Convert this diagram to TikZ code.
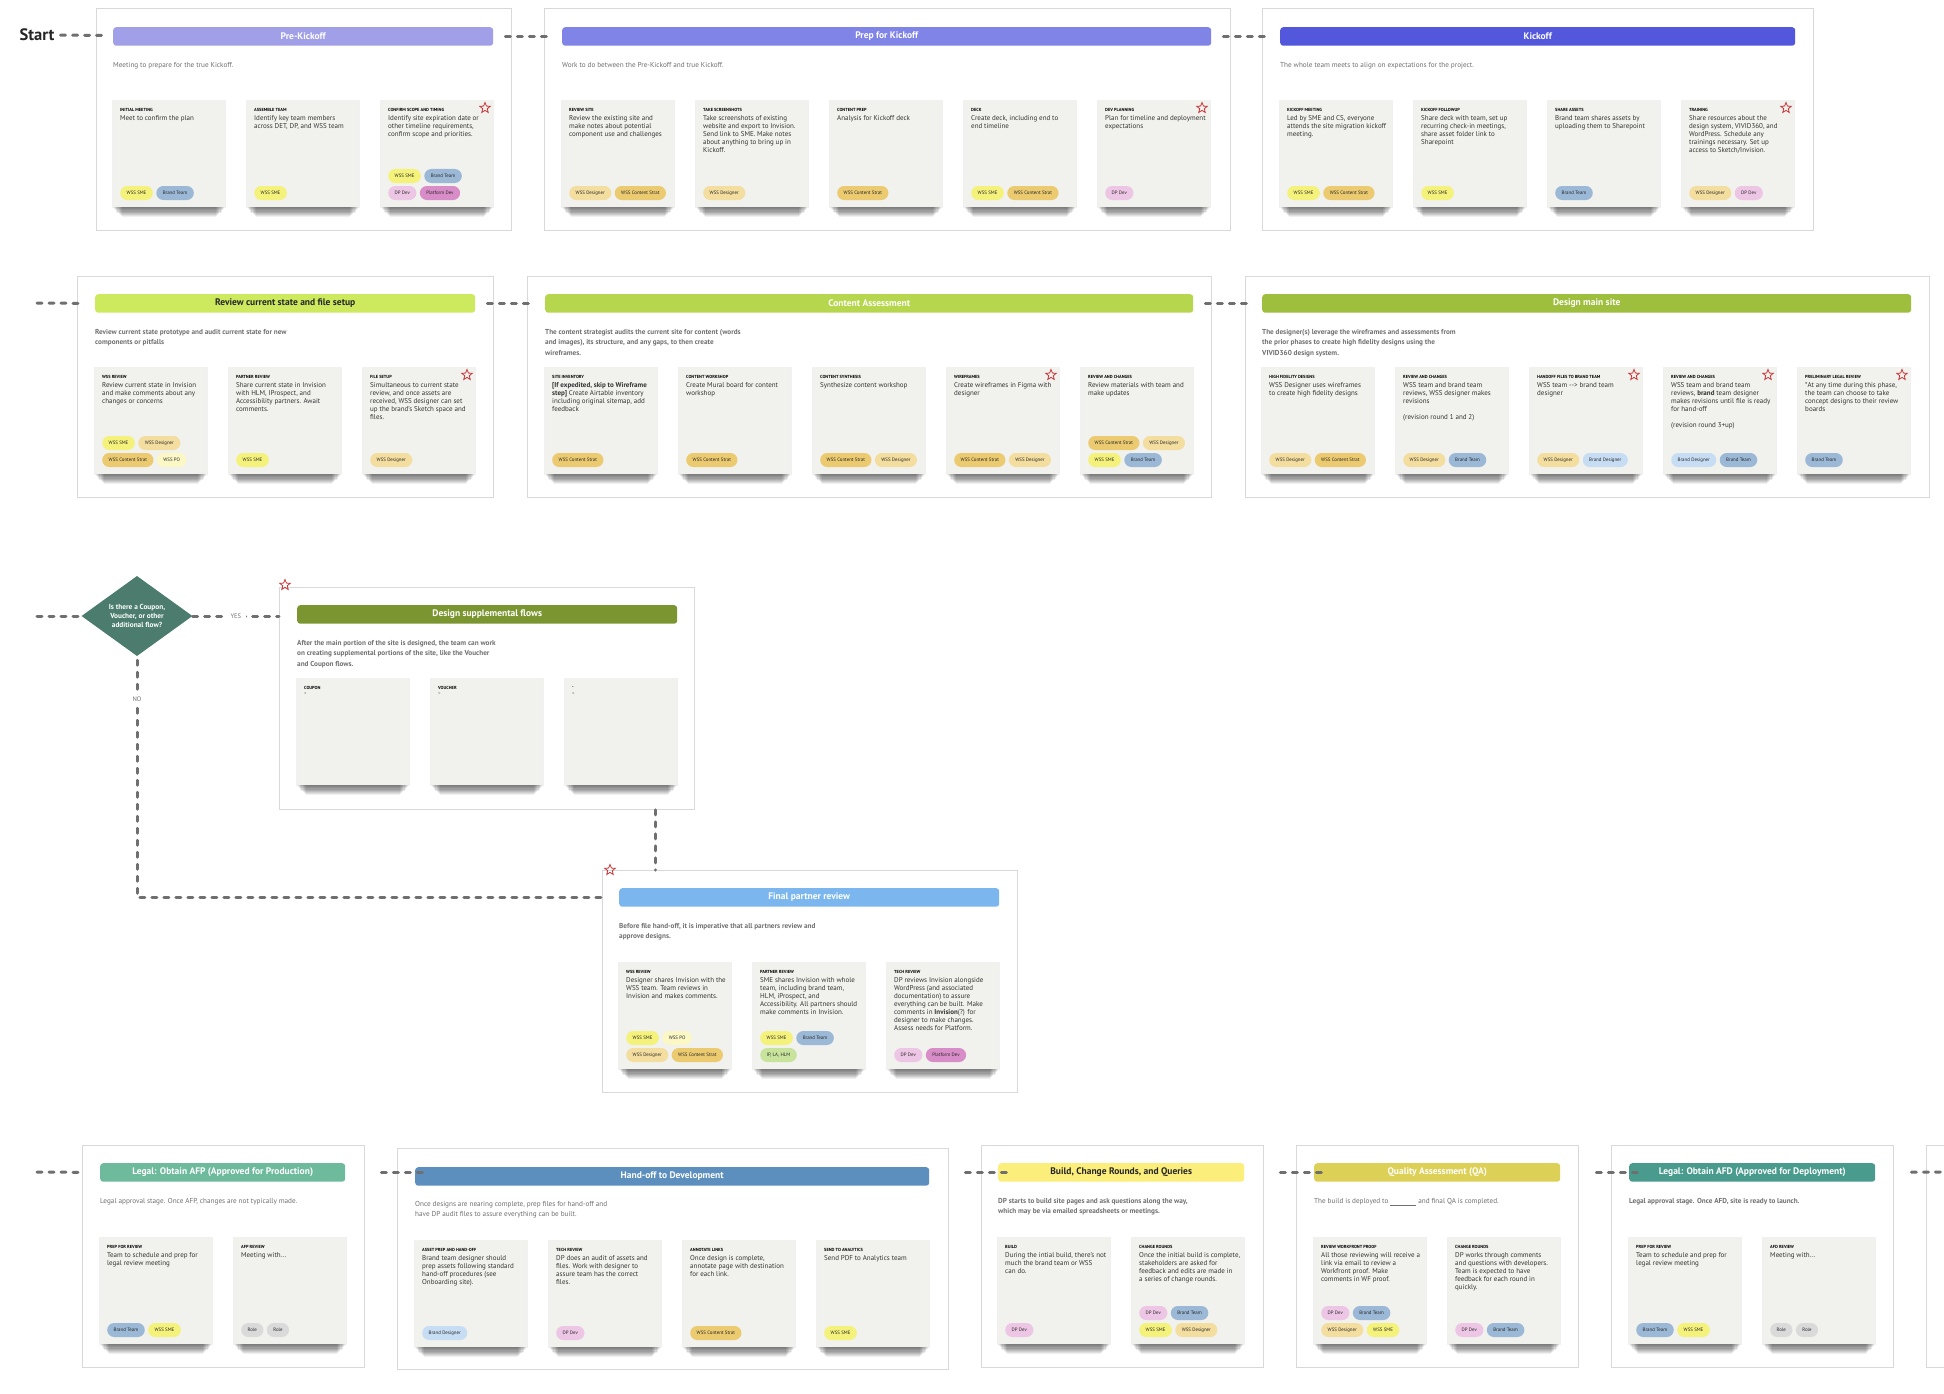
\documentclass[tikz,border=0pt]{standalone}
\usepackage{fontspec}
\setmainfont{PT Sans}
\usetikzlibrary{positioning,shapes.geometric,shadows}

\definecolor{sme}{HTML}{F5F27C}
\definecolor{brand}{HTML}{9BB9D6}
\definecolor{dpdev}{HTML}{EEC6E5}
\definecolor{platdev}{HTML}{D98DC8}
\definecolor{designer}{HTML}{F4DE9F}
\definecolor{strat}{HTML}{EBCA70}
\definecolor{po}{HTML}{FBF8C6}
\definecolor{branddes}{HTML}{C6DDF3}
\definecolor{partners}{HTML}{C8E49C}
\definecolor{role}{HTML}{DADADA}
\definecolor{cardbg}{HTML}{F1F1ED}
\definecolor{boxline}{HTML}{D9D9D9}
\definecolor{flowgray}{HTML}{6F6F6F}
\definecolor{desctext}{HTML}{707070}
\definecolor{bodytext}{HTML}{333333}
\definecolor{starred}{HTML}{C8383B}
\definecolor{prekick}{HTML}{A09FE7}
\definecolor{prepkick}{HTML}{8084E6}
\definecolor{kickoff}{HTML}{5257DC}
\definecolor{reviewstate}{HTML}{CDEA5E}
\definecolor{contentassess}{HTML}{B6D74D}
\definecolor{designmain}{HTML}{9EBE3D}
\definecolor{supplemental}{HTML}{7B9631}
\definecolor{finalreview}{HTML}{7BB7EE}
\definecolor{legalafp}{HTML}{6DBA9C}
\definecolor{handoff}{HTML}{5C8EBE}
\definecolor{build}{HTML}{FCEE7B}
\definecolor{qa}{HTML}{DDD056}
\definecolor{legalafd}{HTML}{489B8D}
\definecolor{decisiongreen}{HTML}{4B7C6D}

\begin{document}
\begin{tikzpicture}[x=1pt, y=-1pt,
					group box/.style={draw=boxline, line width=0.8pt, fill=white, anchor=north west, inner sep=0pt},
					phase bar/.style={rounded corners=3pt, minimum height=18.5pt, anchor=north west, inner sep=0pt, text=white, font=\fontsize{9.5}{10}\selectfont\bfseries},
					desc/.style={anchor=north west, align=left, inner sep=0pt, text=desctext, font=\fontsize{7.2}{10.5}\selectfont},
					desc strong/.style={desc, font=\fontsize{7.2}{10.5}\selectfont\bfseries},
					card/.style={fill=cardbg, minimum width=112pt, minimum height=107pt, inner sep=0pt, outer sep=0pt, anchor=north west,
						general shadow={fill=black, opacity=.06, shadow yshift=-22.6pt, shadow scale=.84},
						general shadow={fill=black, opacity=.07, shadow yshift=-19.7pt, shadow scale=.86},
						general shadow={fill=black, opacity=.075, shadow yshift=-16.9pt, shadow scale=.88},
						general shadow={fill=black, opacity=.08, shadow yshift=-14.1pt, shadow scale=.9},
						general shadow={fill=black, opacity=.085, shadow yshift=-11.3pt, shadow scale=.92},
						general shadow={fill=black, opacity=.085, shadow yshift=-8.5pt, shadow scale=.94},
						general shadow={fill=black, opacity=.08, shadow yshift=-5.6pt, shadow scale=.96},
						general shadow={fill=black, opacity=.07, shadow yshift=-2.8pt, shadow scale=.98},
						general shadow={fill=black, opacity=.06, shadow yshift=-0.8pt, shadow scale=1.01}},
					card title/.style={anchor=west, inner sep=0pt, font=\fontsize{4.4}{5}\selectfont\bfseries},
					card text/.style={anchor=north west, align=left, inner sep=0pt, text=bodytext, font=\fontsize{7}{8}\selectfont},
					tag/.style={rounded corners=7pt, minimum height=14pt, inner xsep=6.5pt, inner ysep=0pt, text=black!85, font=\fontsize{4.9}{5.5}\selectfont},
					fav star/.style={star, star points=5, star point ratio=2.3, draw=starred, line width=0.8pt, minimum size=11pt, inner sep=0pt},
					flow/.style={draw=flowgray, line width=3pt, dash pattern=on 5pt off 7pt, line cap=round, shorten <=12pt, shorten >=12pt},
					late flow/.style={flow, shorten <=36pt, shorten >=-10pt},
					decision/.style={diamond, fill=decisiongreen, minimum width=111pt, minimum height=74pt, inner sep=0pt, align=center, text=white, font=\fontsize{7.3}{9.3}\selectfont\bfseries},
					choice/.style={fill=white, inner xsep=5pt, inner ysep=2pt, text=desctext, font=\fontsize{6.5}{7}\selectfont},
					start label/.style={inner sep=0pt, text=black!85, font=\fontsize{16.5}{18}\selectfont\bfseries}]

  \useasboundingbox (0,0) rectangle (1944,1394);
  \fill[white] (0,0) rectangle (1944,1394);

  % group boxes
  \node[group box, minimum width=415pt, minimum height=222pt] (g1) at (96,8) {};
  \node[group box, minimum width=686pt, minimum height=222pt] (g2) at (544,8) {};
  \node[group box, minimum width=551pt, minimum height=222pt] (g3) at (1262,8) {};
  \node[group box, minimum width=416pt, minimum height=221pt] (g4) at (77,276) {};
  \node[group box, minimum width=684pt, minimum height=221pt] (g5) at (527,276) {};
  \node[group box, minimum width=684pt, minimum height=221pt] (g6) at (1245,276) {};
  \node[group box, minimum width=415pt, minimum height=222pt] (g7) at (279,587) {};
  \node[group box, minimum width=415pt, minimum height=222pt] (g8) at (602,870) {};
  \node[group box, minimum width=282pt, minimum height=222pt] (g9) at (82,1145) {};
  \node[group box, minimum width=551pt, minimum height=221pt] (g10) at (397,1148) {};
  \node[group box, minimum width=282pt, minimum height=222pt] (g11) at (981,1145) {};
  \node[group box, minimum width=282pt, minimum height=222pt] (g12) at (1296,1145) {};
  \node[group box, minimum width=282pt, minimum height=222pt] (g13) at (1611,1145) {};
  \node[group box, minimum width=100pt, minimum height=222pt] (g14) at (1926,1145) {};

  % row 1
  \node[start label] (start) at (37,35) {Start};

  \node[phase bar, fill=prekick, minimum width=380pt] (b1) at (113,27) {Pre-Kickoff};
  \node[desc] (d1) at (113,62) {Meeting to prepare for the true Kickoff.};
  \node[card] (c11) at (113,100) {};
  \node[card, right=22pt of c11] (c12) {};
  \node[card, right=22pt of c12] (c13) {};
  \node[card title] (h11) at ([shift={(7,10)}]c11.north west) {INITIAL MEETING};
  \node[card text] (x11) at ([shift={(7,15)}]c11.north west) {Meet to confirm the plan};
  \node[tag, fill=sme, anchor=west] (p11a) at ([shift={(7,-14)}]c11.south west) {WSS SME};
  \node[tag, fill=brand, right=3pt of p11a] (p11b) {Brand Team};
  \node[card title] (h12) at ([shift={(7,10)}]c12.north west) {ASSEMBLE TEAM};
  \node[card text] (x12) at ([shift={(7,15)}]c12.north west) {Identify key team members\\across DET, DP, and WSS team};
  \node[tag, fill=sme, anchor=west] (p12a) at ([shift={(7,-14)}]c12.south west) {WSS SME};
  \node[card title] (h13) at ([shift={(7,10)}]c13.north west) {CONFIRM SCOPE AND TIMING};
  \node[card text] (x13) at ([shift={(7,15)}]c13.north west) {Identify site expiration date or\\other timeline requirements,\\confirm scope and priorities.};
  \node[tag, fill=sme, anchor=west] (p13a) at ([shift={(7,-31)}]c13.south west) {WSS SME};
  \node[tag, fill=brand, right=3pt of p13a] (p13b) {Brand Team};
  \node[tag, fill=dpdev, anchor=west] (p13c) at ([shift={(7,-14)}]c13.south west) {DP Dev};
  \node[tag, fill=platdev, right=3pt of p13c] (p13d) {Platform Dev};
  \node[fav star] (s13) at ([shift={(-8,8)}]c13.north east) {};

  \node[phase bar, fill=prepkick, minimum width=649pt] (b2) at (562,27) {Prep for Kickoff};
  \node[desc] (d2) at (562,62) {Work to do between the Pre-Kickoff and true Kickoff.};
  \node[card] (c21) at (562,100) {};
  \node[card, right=22pt of c21] (c22) {};
  \node[card, right=22pt of c22] (c23) {};
  \node[card, right=22pt of c23] (c24) {};
  \node[card, right=22pt of c24] (c25) {};
  \node[card title] (h21) at ([shift={(7,10)}]c21.north west) {REVIEW SITE};
  \node[card text] (x21) at ([shift={(7,15)}]c21.north west) {Review the existing site and\\make notes about potential\\component use and challenges};
  \node[tag, fill=designer, anchor=west] (p21a) at ([shift={(7,-14)}]c21.south west) {WSS Designer};
  \node[tag, fill=strat, right=3pt of p21a] (p21b) {WSS Content Strat};
  \node[card title] (h22) at ([shift={(7,10)}]c22.north west) {TAKE SCREENSHOTS};
  \node[card text] (x22) at ([shift={(7,15)}]c22.north west) {Take screenshots of existing\\website and export to Invision.\\Send link to SME. Make notes\\about anything to bring up in\\Kickoff.};
  \node[tag, fill=designer, anchor=west] (p22a) at ([shift={(7,-14)}]c22.south west) {WSS Designer};
  \node[card title] (h23) at ([shift={(7,10)}]c23.north west) {CONTENT PREP};
  \node[card text] (x23) at ([shift={(7,15)}]c23.north west) {Analysis for Kickoff deck};
  \node[tag, fill=strat, anchor=west] (p23a) at ([shift={(7,-14)}]c23.south west) {WSS Content Strat};
  \node[card title] (h24) at ([shift={(7,10)}]c24.north west) {DECK};
  \node[card text] (x24) at ([shift={(7,15)}]c24.north west) {Create deck, including end to\\end timeline};
  \node[tag, fill=sme, anchor=west] (p24a) at ([shift={(7,-14)}]c24.south west) {WSS SME};
  \node[tag, fill=strat, right=3pt of p24a] (p24b) {WSS Content Strat};
  \node[card title] (h25) at ([shift={(7,10)}]c25.north west) {DEV PLANNING};
  \node[card text] (x25) at ([shift={(7,15)}]c25.north west) {Plan for timeline and deployment\\expectations};
  \node[tag, fill=dpdev, anchor=west] (p25a) at ([shift={(7,-14)}]c25.south west) {DP Dev};
  \node[fav star] (s25) at ([shift={(-8,8)}]c25.north east) {};

  \node[phase bar, fill=kickoff, minimum width=515pt] (b3) at (1280,27) {Kickoff};
  \node[desc] (d3) at (1280,62) {The whole team meets to align on expectations for the project.};
  \node[card] (c31) at (1280,100) {};
  \node[card, right=22pt of c31] (c32) {};
  \node[card, right=22pt of c32] (c33) {};
  \node[card, right=22pt of c33] (c34) {};
  \node[card title] (h31) at ([shift={(7,10)}]c31.north west) {KICKOFF MEETING};
  \node[card text] (x31) at ([shift={(7,15)}]c31.north west) {Led by SME and CS, everyone\\attends the site migration kickoff\\meeting.};
  \node[tag, fill=sme, anchor=west] (p31a) at ([shift={(7,-14)}]c31.south west) {WSS SME};
  \node[tag, fill=strat, right=3pt of p31a] (p31b) {WSS Content Strat};
  \node[card title] (h32) at ([shift={(7,10)}]c32.north west) {KICKOFF FOLLOWUP};
  \node[card text] (x32) at ([shift={(7,15)}]c32.north west) {Share deck with team, set up\\recurring check-in meetings,\\share asset folder link to\\Sharepoint};
  \node[tag, fill=sme, anchor=west] (p32a) at ([shift={(7,-14)}]c32.south west) {WSS SME};
  \node[card title] (h33) at ([shift={(7,10)}]c33.north west) {SHARE ASSETS};
  \node[card text] (x33) at ([shift={(7,15)}]c33.north west) {Brand team shares assets by\\uploading them to Sharepoint};
  \node[tag, fill=brand, anchor=west] (p33a) at ([shift={(7,-14)}]c33.south west) {Brand Team};
  \node[card title] (h34) at ([shift={(7,10)}]c34.north west) {TRAINING};
  \node[card text] (x34) at ([shift={(7,15)}]c34.north west) {Share resources about the\\design system, VIVID360, and\\WordPress. Schedule any\\trainings necessary. Set up\\access to Sketch/Invision.};
  \node[tag, fill=designer, anchor=west] (p34a) at ([shift={(7,-14)}]c34.south west) {WSS Designer};
  \node[tag, fill=dpdev, right=3pt of p34a] (p34b) {DP Dev};
  \node[fav star] (s34) at ([shift={(-8,8)}]c34.north east) {};

  % row 2
  \node[phase bar, fill=reviewstate, minimum width=380pt, text=black!85] (b4) at (95,294) {Review current state and file setup};
  \node[desc strong] (d4) at (95,329) {Review current state prototype and audit current state for new\\components or pitfalls};
  \node[card] (c41) at (95,367) {};
  \node[card, right=22pt of c41] (c42) {};
  \node[card, right=22pt of c42] (c43) {};
  \node[card title] (h41) at ([shift={(7,10)}]c41.north west) {WSS REVIEW};
  \node[card text] (x41) at ([shift={(7,15)}]c41.north west) {Review current state in Invision\\and make comments about any\\changes or concerns};
  \node[tag, fill=sme, anchor=west] (p41a) at ([shift={(7,-31)}]c41.south west) {WSS SME};
  \node[tag, fill=designer, right=3pt of p41a] (p41b) {WSS Designer};
  \node[tag, fill=strat, anchor=west] (p41c) at ([shift={(7,-14)}]c41.south west) {WSS Content Strat};
  \node[tag, fill=po, right=3pt of p41c] (p41d) {WSS PO};
  \node[card title] (h42) at ([shift={(7,10)}]c42.north west) {PARTNER REVIEW};
  \node[card text] (x42) at ([shift={(7,15)}]c42.north west) {Share current state in Invision\\with HLM, IProspect, and\\Accessibility partners. Await\\comments.};
  \node[tag, fill=sme, anchor=west] (p42a) at ([shift={(7,-14)}]c42.south west) {WSS SME};
  \node[card title] (h43) at ([shift={(7,10)}]c43.north west) {FILE SETUP};
  \node[card text] (x43) at ([shift={(7,15)}]c43.north west) {Simultaneous to current state\\review, and once assets are\\received, WSS designer can set\\up the brand's Sketch space and\\files.};
  \node[tag, fill=designer, anchor=west] (p43a) at ([shift={(7,-14)}]c43.south west) {WSS Designer};
  \node[fav star] (s43) at ([shift={(-8,8)}]c43.north east) {};

  \node[phase bar, fill=contentassess, minimum width=648pt] (b5) at (545,294) {Content Assessment};
  \node[desc strong] (d5) at (545,329) {The content strategist audits the current site for content (words\\and images), its structure, and any gaps, to then create\\wireframes.};
  \node[card] (c51) at (545,367) {};
  \node[card, right=22pt of c51] (c52) {};
  \node[card, right=22pt of c52] (c53) {};
  \node[card, right=22pt of c53] (c54) {};
  \node[card, right=22pt of c54] (c55) {};
  \node[card title] (h51) at ([shift={(7,10)}]c51.north west) {SITE INVENTORY};
  \node[card text] (x51) at ([shift={(7,15)}]c51.north west) {\textbf{[If expedited, skip to Wireframe}\\\textbf{step]} Create Airtable inventory\\including original sitemap, add\\feedback};
  \node[tag, fill=strat, anchor=west] (p51a) at ([shift={(7,-14)}]c51.south west) {WSS Content Strat};
  \node[card title] (h52) at ([shift={(7,10)}]c52.north west) {CONTENT WORKSHOP};
  \node[card text] (x52) at ([shift={(7,15)}]c52.north west) {Create Mural board for content\\workshop};
  \node[tag, fill=strat, anchor=west] (p52a) at ([shift={(7,-14)}]c52.south west) {WSS Content Strat};
  \node[card title] (h53) at ([shift={(7,10)}]c53.north west) {CONTENT SYNTHESIS};
  \node[card text] (x53) at ([shift={(7,15)}]c53.north west) {Synthesize content workshop};
  \node[tag, fill=strat, anchor=west] (p53a) at ([shift={(7,-14)}]c53.south west) {WSS Content Strat};
  \node[tag, fill=designer, right=3pt of p53a] (p53b) {WSS Designer};
  \node[card title] (h54) at ([shift={(7,10)}]c54.north west) {WIREFRAMES};
  \node[card text] (x54) at ([shift={(7,15)}]c54.north west) {Create wireframes in Figma with\\designer};
  \node[tag, fill=strat, anchor=west] (p54a) at ([shift={(7,-14)}]c54.south west) {WSS Content Strat};
  \node[tag, fill=designer, right=3pt of p54a] (p54b) {WSS Designer};
  \node[fav star] (s54) at ([shift={(-8,8)}]c54.north east) {};
  \node[card title] (h55) at ([shift={(7,10)}]c55.north west) {REVIEW AND CHANGES};
  \node[card text] (x55) at ([shift={(7,15)}]c55.north west) {Review materials with team and\\make updates};
  \node[tag, fill=strat, anchor=west] (p55a) at ([shift={(7,-31)}]c55.south west) {WSS Content Strat};
  \node[tag, fill=designer, right=3pt of p55a] (p55b) {WSS Designer};
  \node[tag, fill=sme, anchor=west] (p55c) at ([shift={(7,-14)}]c55.south west) {WSS SME};
  \node[tag, fill=brand, right=3pt of p55c] (p55d) {Brand Team};

  \node[phase bar, fill=designmain, minimum width=649pt] (b6) at (1262,294) {Design main site};
  \node[desc strong] (d6) at (1262,329) {The designer(s) leverage the wireframes and assessments from\\the prior phases to create high fidelity designs using the\\VIVID360 design system.};
  \node[card] (c61) at (1262,367) {};
  \node[card, right=22pt of c61] (c62) {};
  \node[card, right=22pt of c62] (c63) {};
  \node[card, right=22pt of c63] (c64) {};
  \node[card, right=22pt of c64] (c65) {};
  \node[card title] (h61) at ([shift={(7,10)}]c61.north west) {HIGH FIDELITY DESIGNS};
  \node[card text] (x61) at ([shift={(7,15)}]c61.north west) {WSS Designer uses wireframes\\to create high fidelity designs};
  \node[tag, fill=designer, anchor=west] (p61a) at ([shift={(7,-14)}]c61.south west) {WSS Designer};
  \node[tag, fill=strat, right=3pt of p61a] (p61b) {WSS Content Strat};
  \node[card title] (h62) at ([shift={(7,10)}]c62.north west) {REVIEW AND CHANGES};
  \node[card text] (x62) at ([shift={(7,15)}]c62.north west) {WSS team and brand team\\reviews, WSS designer makes\\revisions\\[8pt](revision round 1 and 2)};
  \node[tag, fill=designer, anchor=west] (p62a) at ([shift={(7,-14)}]c62.south west) {WSS Designer};
  \node[tag, fill=brand, right=3pt of p62a] (p62b) {Brand Team};
  \node[card title] (h63) at ([shift={(7,10)}]c63.north west) {HANDOFF FILES TO BRAND TEAM};
  \node[card text] (x63) at ([shift={(7,15)}]c63.north west) {WSS team -{}-> brand team\\designer};
  \node[tag, fill=designer, anchor=west] (p63a) at ([shift={(7,-14)}]c63.south west) {WSS Designer};
  \node[tag, fill=branddes, right=3pt of p63a] (p63b) {Brand Designer};
  \node[fav star] (s63) at ([shift={(-8,8)}]c63.north east) {};
  \node[card title] (h64) at ([shift={(7,10)}]c64.north west) {REVIEW AND CHANGES};
  \node[card text] (x64) at ([shift={(7,15)}]c64.north west) {WSS team and brand team\\reviews, \textbf{brand} team designer\\makes revisions until file is ready\\for hand-off\\[8pt](revision round 3+up)};
  \node[tag, fill=branddes, anchor=west] (p64a) at ([shift={(7,-14)}]c64.south west) {Brand Designer};
  \node[tag, fill=brand, right=3pt of p64a] (p64b) {Brand Team};
  \node[fav star] (s64) at ([shift={(-8,8)}]c64.north east) {};
  \node[card title] (h65) at ([shift={(7,10)}]c65.north west) {PRELIMINARY LEGAL REVIEW};
  \node[card text] (x65) at ([shift={(7,15)}]c65.north west) {*At any time during this phase,\\the team can choose to take\\concept designs to their review\\boards};
  \node[tag, fill=brand, anchor=west] (p65a) at ([shift={(7,-14)}]c65.south west) {Brand Team};
  \node[fav star] (s65) at ([shift={(-8,8)}]c65.north east) {};

  % row 3
  \node[decision] (dia) at (137,616) {Is there a Coupon,\\Voucher, or other\\additional flow?};

  \node[fav star] (s7) at ([shift={(6,-2)}]g7.north west) {};
  \node[phase bar, fill=supplemental, minimum width=380pt] (b7) at (297,605) {Design supplemental flows};
  \node[desc strong] (d7) at (297,640) {After the main portion of the site is designed, the team can work\\on creating supplemental portions of the site, like the Voucher\\and Coupon flows.};
  \node[card] (c71) at (297,678) {};
  \node[card, right=22pt of c71] (c72) {};
  \node[card, right=22pt of c72] (c73) {};
  \node[card title] (h71) at ([shift={(7,10)}]c71.north west) {COUPON};
  \node[card text] (x71) at ([shift={(7,15)}]c71.north west) {-};
  \node[card title] (h72) at ([shift={(7,10)}]c72.north west) {VOUCHER};
  \node[card text] (x72) at ([shift={(7,15)}]c72.north west) {-};
  \node[card title] (h73) at ([shift={(7,10)}]c73.north west) {-};
  \node[card text] (x73) at ([shift={(7,15)}]c73.north west) {-};

  % row 4
  \node[fav star] (s8) at ([shift={(8,0)}]g8.north west) {};
  \node[phase bar, fill=finalreview, minimum width=380pt] (b8) at (619,888) {Final partner review};
  \node[desc strong] (d8) at (619,923) {Before file hand-off, it is imperative that all partners review and\\approve designs.};
  \node[card] (c81) at (619,962) {};
  \node[card, right=22pt of c81] (c82) {};
  \node[card, right=22pt of c82] (c83) {};
  \node[card title] (h81) at ([shift={(7,10)}]c81.north west) {WSS REVIEW};
  \node[card text] (x81) at ([shift={(7,15)}]c81.north west) {Designer shares Invision with the\\WSS team. Team reviews in\\Invision and makes comments.};
  \node[tag, fill=sme, anchor=west] (p81a) at ([shift={(7,-31)}]c81.south west) {WSS SME};
  \node[tag, fill=po, right=3pt of p81a] (p81b) {WSS PO};
  \node[tag, fill=designer, anchor=west] (p81c) at ([shift={(7,-14)}]c81.south west) {WSS Designer};
  \node[tag, fill=strat, right=3pt of p81c] (p81d) {WSS Content Strat};
  \node[card title] (h82) at ([shift={(7,10)}]c82.north west) {PARTNER REVIEW};
  \node[card text] (x82) at ([shift={(7,15)}]c82.north west) {SME shares Invision with whole\\team, including brand team,\\HLM, iProspect, and\\Accessibility. All partners should\\make comments in Invision.};
  \node[tag, fill=sme, anchor=west] (p82a) at ([shift={(7,-31)}]c82.south west) {WSS SME};
  \node[tag, fill=brand, right=3pt of p82a] (p82b) {Brand Team};
  \node[tag, fill=partners, anchor=west] (p82c) at ([shift={(7,-14)}]c82.south west) {IP, LA, HLM};
  \node[card title] (h83) at ([shift={(7,10)}]c83.north west) {TECH REVIEW};
  \node[card text] (x83) at ([shift={(7,15)}]c83.north west) {DP reviews Invision alongside\\WordPress (and associated\\documentation) to assure\\everything can be built. Make\\comments in \textbf{Invision}(?) for\\designer to make changes.\\Assess needs for Platform.};
  \node[tag, fill=dpdev, anchor=west] (p83a) at ([shift={(7,-14)}]c83.south west) {DP Dev};
  \node[tag, fill=platdev, right=3pt of p83a] (p83b) {Platform Dev};

  % row 5
  \node[phase bar, fill=legalafp, minimum width=245pt] (b9) at (100,1163) {Legal: Obtain AFP (Approved for Production)};
  \node[desc] (d9) at (100,1198) {Legal approval stage. Once AFP, changes are not typically made.};
  \node[card] (c91) at (100,1237) {};
  \node[card, right=22pt of c91] (c92) {};
  \node[card title] (h91) at ([shift={(7,10)}]c91.north west) {PREP FOR REVIEW};
  \node[card text] (x91) at ([shift={(7,15)}]c91.north west) {Team to schedule and prep for\\legal review meeting};
  \node[tag, fill=brand, anchor=west] (p91a) at ([shift={(7,-14)}]c91.south west) {Brand Team};
  \node[tag, fill=sme, right=3pt of p91a] (p91b) {WSS SME};
  \node[card title] (h92) at ([shift={(7,10)}]c92.north west) {AFP REVIEW};
  \node[card text] (x92) at ([shift={(7,15)}]c92.north west) {Meeting with...};
  \node[tag, fill=role, anchor=west] (p92a) at ([shift={(7,-14)}]c92.south west) {Role};
  \node[tag, fill=role, right=3pt of p92a] (p92b) {Role};

  \node[phase bar, fill=handoff, minimum width=514pt] (b10) at (415,1167) {Hand-off to Development};
  \node[desc] (d10) at (415,1201) {Once designs are nearing complete, prep files for hand-off and\\have DP audit files to assure everything can be built.};
  \node[card] (c101) at (415,1240) {};
  \node[card, right=22pt of c101] (c102) {};
  \node[card, right=22pt of c102] (c103) {};
  \node[card, right=22pt of c103] (c104) {};
  \node[card title] (h101) at ([shift={(7,10)}]c101.north west) {ASSET PREP AND HAND-OFF};
  \node[card text] (x101) at ([shift={(7,15)}]c101.north west) {Brand team designer should\\prep assets following standard\\hand-off procedures (see\\Onboarding site).};
  \node[tag, fill=branddes, anchor=west] (p101a) at ([shift={(7,-14)}]c101.south west) {Brand Designer};
  \node[card title] (h102) at ([shift={(7,10)}]c102.north west) {TECH REVIEW};
  \node[card text] (x102) at ([shift={(7,15)}]c102.north west) {DP does an audit of assets and\\files. Work with designer to\\assure team has the correct\\files.};
  \node[tag, fill=dpdev, anchor=west] (p102a) at ([shift={(7,-14)}]c102.south west) {DP Dev};
  \node[card title] (h103) at ([shift={(7,10)}]c103.north west) {ANNOTATE LINKS};
  \node[card text] (x103) at ([shift={(7,15)}]c103.north west) {Once design is complete,\\annotate page with destination\\for each link.};
  \node[tag, fill=strat, anchor=west] (p103a) at ([shift={(7,-14)}]c103.south west) {WSS Content Strat};
  \node[card title] (h104) at ([shift={(7,10)}]c104.north west) {SEND TO ANALYTICS};
  \node[card text] (x104) at ([shift={(7,15)}]c104.north west) {Send PDF to Analytics team};
  \node[tag, fill=sme, anchor=west] (p104a) at ([shift={(7,-14)}]c104.south west) {WSS SME};

  \node[phase bar, fill=build, minimum width=246pt, text=black!85] (b11) at (998,1163) {Build, Change Rounds, and Queries};
  \node[desc strong] (d11) at (998,1198) {DP starts to build site pages and ask questions along the way,\\which may be via emailed spreadsheets or meetings.};
  \node[card] (c111) at (998,1237) {};
  \node[card, right=22pt of c111] (c112) {};
  \node[card title] (h111) at ([shift={(7,10)}]c111.north west) {BUILD};
  \node[card text] (x111) at ([shift={(7,15)}]c111.north west) {During the intial build, there's not\\much the brand team or WSS\\can do.};
  \node[tag, fill=dpdev, anchor=west] (p111a) at ([shift={(7,-14)}]c111.south west) {DP Dev};
  \node[card title] (h112) at ([shift={(7,10)}]c112.north west) {CHANGE ROUNDS};
  \node[card text] (x112) at ([shift={(7,15)}]c112.north west) {Once the initial build is complete,\\stakeholders are asked for\\feedback and edits are made in\\a series of change rounds.};
  \node[tag, fill=dpdev, anchor=west] (p112a) at ([shift={(7,-31)}]c112.south west) {DP Dev};
  \node[tag, fill=brand, right=3pt of p112a] (p112b) {Brand Team};
  \node[tag, fill=sme, anchor=west] (p112c) at ([shift={(7,-14)}]c112.south west) {WSS SME};
  \node[tag, fill=designer, right=3pt of p112c] (p112d) {WSS Designer};

  \node[phase bar, fill=qa, minimum width=246pt] (b12) at (1314,1163) {Quality Assessment (QA)};
  \node[desc] (d12) at (1314,1198) {The build is deployed to \underline{\hspace{26pt}} and final QA is completed.};
  \node[card] (c121) at (1314,1237) {};
  \node[card, right=22pt of c121] (c122) {};
  \node[card title] (h121) at ([shift={(7,10)}]c121.north west) {REVIEW WORKFRONT PROOF};
  \node[card text] (x121) at ([shift={(7,15)}]c121.north west) {All those reviewing will receive a\\link via email to review a\\Workfront proof. Make\\comments in WF proof.};
  \node[tag, fill=dpdev, anchor=west] (p121a) at ([shift={(7,-31)}]c121.south west) {DP Dev};
  \node[tag, fill=brand, right=3pt of p121a] (p121b) {Brand Team};
  \node[tag, fill=designer, anchor=west] (p121c) at ([shift={(7,-14)}]c121.south west) {WSS Designer};
  \node[tag, fill=sme, right=3pt of p121c] (p121d) {WSS SME};
  \node[card title] (h122) at ([shift={(7,10)}]c122.north west) {CHANGE ROUNDS};
  \node[card text] (x122) at ([shift={(7,15)}]c122.north west) {DP works through comments\\and questions with developers.\\Team is expected to have\\feedback for each round in\\quickly.};
  \node[tag, fill=dpdev, anchor=west] (p122a) at ([shift={(7,-14)}]c122.south west) {DP Dev};
  \node[tag, fill=brand, right=3pt of p122a] (p122b) {Brand Team};

  \node[phase bar, fill=legalafd, minimum width=246pt] (b13) at (1629,1163) {Legal: Obtain AFD (Approved for Deployment)};
  \node[desc strong] (d13) at (1629,1198) {Legal approval stage. Once AFD, site is ready to launch.};
  \node[card] (c131) at (1629,1237) {};
  \node[card, right=22pt of c131] (c132) {};
  \node[card title] (h131) at ([shift={(7,10)}]c131.north west) {PREP FOR REVIEW};
  \node[card text] (x131) at ([shift={(7,15)}]c131.north west) {Team to schedule and prep for\\legal review meeting};
  \node[tag, fill=brand, anchor=west] (p131a) at ([shift={(7,-14)}]c131.south west) {Brand Team};
  \node[tag, fill=sme, right=3pt of p131a] (p131b) {WSS SME};
  \node[card title] (h132) at ([shift={(7,10)}]c132.north west) {AFD REVIEW};
  \node[card text] (x132) at ([shift={(7,15)}]c132.north west) {Meeting with...};
  \node[tag, fill=role, anchor=west] (p132a) at ([shift={(7,-14)}]c132.south west) {Role};
  \node[tag, fill=role, right=3pt of p132a] (p132b) {Role};

  % connectors
  \coordinate (in4) at (37,303);
  \coordinate (in7) at (37,616);
  \coordinate (in9) at (37,1172);
  \coordinate (out13) at (1944,1172);

  \draw[flow, shorten <=6pt, shorten >=9pt] (start) -- (b1);
  \draw[flow] (b1) -- (b2);
  \draw[flow] (b2) -- (b3);
  \draw[flow, shorten <=0pt, shorten >=13pt] (in4) -- (b4.west);
  \draw[flow] (b4) -- (b5);
  \draw[flow] (b5) -- (b6);
  \draw[flow, shorten <=0pt, shorten >=0pt] (in7) -- (dia.west);
  \draw[flow, shorten <=0pt, shorten >=0pt] (dia.east) -- node[choice] (yes) {YES} (dia.east -| g7.west);
  \draw[flow, shorten <=4pt] (dia.south) -- node[choice, pos=.18] (no) {NO} (dia.south |- b8.west) -- (b8.west);
  \draw[flow, shorten <=0pt, shorten >=0pt] ([xshift=-39pt]g7.south east) -- ([xshift=-39pt]g7.south east |- g8.north);
  \draw[flow, shorten <=0pt, shorten >=20pt] (in9) -- (b9.west);
  \draw[late flow] (b9.east) -- (b9.east -| b10.west);
  \draw[late flow] (b11.west -| b10.east) -- (b11.west);
  \draw[late flow] (b11.east) -- (b12.west);
  \draw[late flow] (b12.east) -- (b13.west);
  \draw[late flow, shorten >=0pt] (b13.east) -- (out13);
\end{tikzpicture}
\end{document}
